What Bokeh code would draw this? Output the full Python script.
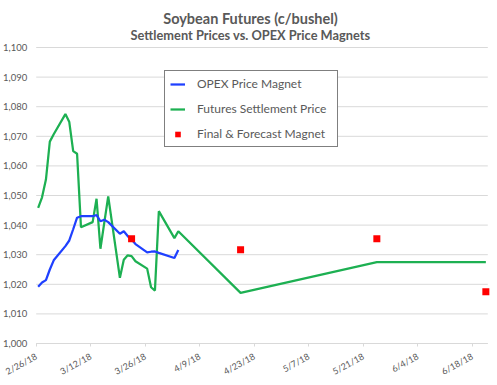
import pandas as pd
from bokeh.plotting import figure
from bokeh.models import (Range1d, FixedTicker, Legend, LegendItem, Label,
                          ColumnDataSource, NumeralTickFormatter)
from bokeh.embed import file_html
from bokeh.resources import INLINE

title_text = "Soybean Futures (c/bushel)"
subtitle_text = "Settlement Prices vs. OPEX Price Magnets"

daily_dates = ["2/26/18", "2/27/18", "2/28/18", "3/1/18", "3/2/18",
               "3/5/18", "3/6/18", "3/7/18", "3/8/18", "3/9/18",
               "3/12/18", "3/13/18", "3/14/18", "3/15/18", "3/16/18",
               "3/19/18", "3/20/18", "3/21/18", "3/22/18", "3/23/18",
               "3/26/18", "3/27/18", "3/28/18", "3/29/18",
               "4/2/18", "4/3/18"]
opex_magnet = [1019.2, 1020.6, 1021.4, 1025.0, 1028.1,
               1032.9, 1034.8, 1038.6, 1042.5, 1043.0,
               1043.0, 1043.4, 1041.3, 1041.8, 1041.0,
               1037.1, 1037.9, 1036.3, 1035.1, 1033.6,
               1030.8, 1031.0, 1031.1, 1030.6,
               1028.9, 1031.6]

futures_dates = daily_dates + ["4/19/18", "5/24/18", "6/21/18"]
futures_settle = [1045.8, 1049.4, 1055.4, 1068.2, 1070.7,
                  1077.5, 1074.8, 1065.0, 1064.1, 1039.3,
                  1041.0, 1048.9, 1032.0, 1040.9, 1049.7,
                  1022.2, 1028.3, 1029.8, 1029.5, 1027.8,
                  1025.3, 1019.0, 1017.9, 1044.7,
                  1035.6, 1037.9,
                  1017.1, 1027.5, 1027.5]

magnet_dates = ["3/22/18", "4/19/18", "5/24/18", "6/21/18"]
magnet_values = [1035.4, 1031.7, 1035.4, 1017.5]

tick_labels = ["2/26/18", "3/12/18", "3/26/18", "4/9/18", "4/23/18",
               "5/7/18", "5/21/18", "6/4/18", "6/18/18"]
y_ticks = [1000, 1010, 1020, 1030, 1040, 1050, 1060, 1070, 1080, 1090, 1100]
axis_start, axis_end = "2/26/18", "6/22/18"

GRAY = "#595959"
GRID = "#D9D9D9"
FONT = "Lato"
HALF_DAY = pd.Timedelta(hours=12)

# layout (pixels); the frame fills the whole canvas, axes sit inside it
W, H = 497, 385
LEFT_PAD_PX, RIGHT_PAD_PX = 35.7, 9.7
TOP_PAD_PX, BOTTOM_PAD_PX = 47, 42


def to_dt(lst):
    return pd.to_datetime(lst, format="%m/%d/%y")


def to_ms(ts):
    return float(pd.Timestamp(ts).value // 10**6)


x0 = to_dt([axis_start])[0]
x1 = to_dt([axis_end])[0]
days = (x1 - x0) / pd.Timedelta(days=1)
px_per_day = (W - LEFT_PAD_PX - RIGHT_PAD_PX) / days
x_lo = x0 - pd.Timedelta(days=LEFT_PAD_PX / px_per_day)
x_hi = x1 + pd.Timedelta(days=RIGHT_PAD_PX / px_per_day)

px_per_unit = (H - TOP_PAD_PX - BOTTOM_PAD_PX) / (y_ticks[-1] - y_ticks[0])
y_lo = y_ticks[0] - BOTTOM_PAD_PX / px_per_unit
y_hi = y_ticks[-1] + TOP_PAD_PX / px_per_unit

p = figure(width=W, height=H, x_axis_type="datetime",
           x_range=Range1d(start=x_lo, end=x_hi),
           y_range=Range1d(start=y_lo, end=y_hi),
           output_backend="svg", toolbar_location=None,
           min_border_left=0, min_border_right=0,
           min_border_top=0, min_border_bottom=0)
p.title.visible = False
p.outline_line_color = None
p.background_fill_color = "white"
p.border_fill_color = "white"
p.xgrid.grid_line_color = None
p.ygrid.grid_line_color = None

# horizontal gridlines between the axis start and end dates
grid_src = ColumnDataSource(dict(x0=[x0] * len(y_ticks), x1=[x1] * len(y_ticks),
                                 y=y_ticks))
p.segment(x0="x0", y0="y", x1="x1", y1="y", source=grid_src,
          line_color=GRID, line_width=1)

blue_src = ColumnDataSource(dict(x=to_dt(daily_dates) + HALF_DAY, y=opex_magnet))
green_src = ColumnDataSource(dict(x=to_dt(futures_dates) + HALF_DAY, y=futures_settle))
red_src = ColumnDataSource(dict(x=to_dt(magnet_dates) + HALF_DAY, y=magnet_values))

r_green = p.line("x", "y", source=green_src, line_color="#1DB052", line_width=2.25)
r_blue = p.line("x", "y", source=blue_src, line_color="#1F40FF", line_width=2.25)
r_red = p.scatter("x", "y", source=red_src, marker="square", size=7,
                  fill_color="#FF0000", line_color=None)

# x axis on the 1,000 line
tick_ms = [to_ms(t) for t in to_dt(tick_labels)]
xa = p.xaxis[0]
xa.fixed_location = y_ticks[0]
xa.bounds = (to_ms(x0), to_ms(x1))
xa.ticker = FixedTicker(ticks=tick_ms)
xa.major_label_overrides = {t: lab for t, lab in zip(tick_ms, tick_labels)}
xa.major_label_orientation = 0.5
xa.major_label_text_font = FONT
xa.major_label_text_font_size = "9px"
xa.major_label_text_color = GRAY
xa.major_label_standoff = 9
xa.axis_line_color = GRID
xa.major_tick_line_color = GRID
xa.major_tick_in = 0
xa.major_tick_out = 3
xa.minor_tick_line_color = None

# y axis at the first date
ya = p.yaxis[0]
ya.fixed_location = to_ms(x0)
ya.ticker = FixedTicker(ticks=y_ticks)
ya.formatter = NumeralTickFormatter(format="0,0")
ya.axis_line_color = None
ya.major_tick_line_color = None
ya.major_tick_out = 0
ya.major_tick_in = 0
ya.minor_tick_line_color = None
ya.major_label_text_font = FONT
ya.major_label_text_font_size = "9.5px"
ya.major_label_text_color = GRAY
ya.major_label_standoff = 9

legend = Legend(items=[
    LegendItem(label="OPEX Price Magnet", renderers=[r_blue]),
    LegendItem(label="Futures Settlement Price", renderers=[r_green]),
    LegendItem(label="Final & Forecast Magnet", renderers=[r_red]),
], location=(164, 238))
legend.border_line_color = "black"
legend.border_line_width = 1
legend.background_fill_color = "white"
legend.background_fill_alpha = 1
legend.label_text_font = FONT
legend.label_text_font_size = "12px"
legend.label_text_color = GRAY
legend.glyph_width = 15
legend.glyph_height = 14
legend.label_height = 14
legend.label_width = 135
legend.spacing = 10
legend.padding = 5
legend.label_standoff = 12
legend.margin = 0
p.add_layout(legend)

p.add_layout(Label(x=250, y=367.5, x_units="screen", y_units="screen",
                   text=title_text, text_align="center", text_baseline="alphabetic",
                   text_font=FONT, text_font_size="14.5px", text_font_style="bold",
                   text_color=GRAY))
p.add_layout(Label(x=250, y=350.3, x_units="screen", y_units="screen",
                   text=subtitle_text, text_align="center", text_baseline="alphabetic",
                   text_font=FONT, text_font_size="12.8px", text_font_style="bold",
                   text_color=GRAY))

open("out.html", "w").write(file_html(p, INLINE))
